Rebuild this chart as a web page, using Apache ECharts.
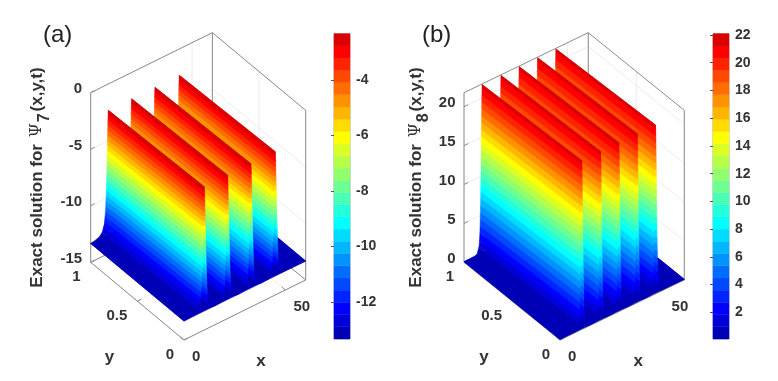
<!DOCTYPE html>
<html>
<head>
<meta charset="utf-8">
<style>html,body{margin:0;padding:0;background:#fff}#c{width:778px;height:381px}</style>
<script src="https://cdn.jsdelivr.net/npm/echarts@6/dist/echarts.min.js"></script>
</head>
<body>
<div id="c"></div>
<script>
// ---- values ----
const xMax = 60;
const xTicks = [0, 50];
const yTicks = [0, 0.5, 1];
const zTicksA = [0, -5, -10, -15];
const zTicksB = [0, 5, 10, 15, 20];
const barTicksA = [-12, -10, -8, -6, -4];
const barTicksB = [2, 4, 6, 8, 10, 12, 14, 16, 18, 20, 22];
const zRangeA = [-15, 0];
const zRangeB = [0, 21.8];
const levelRangeA = [-13.33, -2.33];
const levelRangeB = [0.08, 22.09];
const ridgeDriftA = 1.3;
const ridgeDriftB = 1.7;

// surface profile along x at y = 1 (it runs almost unchanged along y)
const xsA = [0, 1.7, 4.2, 5.7, 6.7, 7.3, 7.7, 8.0, 8.3, 8.5, 8.7, 8.9, 9.1, 9.4, 9.7, 10.0, 10.3, 10.7, 11.3, 12.1, 14,
  16.8, 17.6, 18.2, 18.6, 18.9, 19.2, 19.5, 19.8, 20.0, 20.2, 20.4, 20.6, 20.9, 21.2, 21.5, 21.8, 22.2, 22.8, 23.6, 25.5,
  28.3, 29.1, 29.7, 30.1, 30.4, 30.7, 31.0, 31.3, 31.5, 31.7, 31.9, 32.1, 32.4, 32.7, 33.0, 33.3, 33.7, 34.3, 35.1, 37,
  40.3, 41.1, 41.7, 42.1, 42.4, 42.7, 43.0, 43.3, 43.5, 43.7, 43.9, 44.1, 44.4, 44.7, 45.0, 45.3, 45.7, 46.3, 47.1, 60];
const zsA = [-13.33, -13.28, -13.13, -12.84, -12.23, -11.13, -9.37, -7.28, -4.75, -3.1, -2.33, -3.1, -4.75, -7.28, -9.37, -11.13, -12.23, -12.84, -13.13, -13.28, -13.33,
  -13.28, -13.13, -12.84, -12.23, -11.13, -9.37, -7.28, -4.75, -3.1, -2.33, -3.1, -4.75, -7.28, -9.37, -11.13, -12.23, -12.84, -13.13, -13.28, -13.33,
  -13.28, -13.13, -12.84, -12.23, -11.13, -9.37, -7.28, -4.75, -3.1, -2.33, -3.1, -4.75, -7.28, -9.37, -11.13, -12.23, -12.84, -13.13, -13.28, -13.33,
  -13.28, -13.13, -12.84, -12.23, -11.13, -9.37, -7.28, -4.75, -3.1, -2.33, -3.1, -4.75, -7.28, -9.37, -11.13, -12.23, -12.84, -13.13, -13.28, -13.33];

const xsB = [0, 5.3, 6.4, 7.3, 7.7, 8.0, 8.2, 8.4, 8.6, 8.8, 9.0, 9.2, 9.4, 9.6, 9.9, 10.2, 10.6, 11.2, 13,
  15.5, 16.1, 16.5, 16.8, 17.1, 17.3, 17.5, 17.7, 17.9, 18.1, 18.3, 18.5, 18.7, 19.0, 19.3, 19.7, 20.3, 22,
  24.3, 24.9, 25.3, 25.6, 25.9, 26.1, 26.3, 26.5, 26.7, 26.9, 27.1, 27.3, 27.5, 27.8, 28.1, 28.5, 29.1, 31,
  33.2, 33.8, 34.2, 34.5, 34.8, 35.0, 35.2, 35.4, 35.6, 35.8, 36.0, 36.2, 36.4, 36.7, 37.0, 37.4, 38.0, 40,
  42.0, 42.6, 43.0, 43.3, 43.6, 43.8, 44.0, 44.2, 44.4, 44.6, 44.8, 45.0, 45.2, 45.5, 45.8, 46.2, 46.8, 60];
const zsB = [0.08, 0.12, 0.3, 1.16, 2.89, 6.57, 10.9, 15.65, 19.98, 21.7, 19.98, 15.65, 10.9, 6.57, 2.89, 1.16, 0.3, 0.12, 0.08,
  0.12, 0.3, 1.16, 2.89, 6.57, 10.9, 15.65, 19.98, 21.7, 19.98, 15.65, 10.9, 6.57, 2.89, 1.16, 0.3, 0.12, 0.08,
  0.12, 0.3, 1.16, 2.89, 6.57, 10.9, 15.65, 19.98, 21.7, 19.98, 15.65, 10.9, 6.57, 2.89, 1.16, 0.3, 0.12, 0.08,
  0.12, 0.3, 1.16, 2.89, 6.57, 10.9, 15.65, 19.98, 21.7, 19.98, 15.65, 10.9, 6.57, 2.89, 1.16, 0.3, 0.12, 0.08,
  0.12, 0.3, 1.16, 2.89, 6.57, 10.9, 15.65, 19.98, 21.7, 19.98, 15.65, 10.9, 6.57, 2.89, 1.16, 0.3, 0.12, 0.08];

const levelColors = ['#0000b6','#0000db','#0000ff','#0024ff','#0049ff','#006dff','#0092ff','#00b6ff','#00dbff','#00ffff',
  '#24ffdb','#49ffb6','#6dff92','#92ff6d','#b6ff49','#dbff24','#ffff00','#ffdb00','#ffb600','#ff9200',
  '#ff6d00','#ff4900','#ff2400','#ff0000','#db0000'];

// ---- oblique view of each box, as fractions of its hidden grid ----
const viewA = { ux: 0.566, uy: 0.434, vx: 0.196, vy: 0.2537, vz: 0.5537 };
const viewB = { ux: 0.5642, uy: 0.4358, vx: 0.196, vy: 0.2537, vz: 0.5537 };
const tickFont = 'bold 15px "Liberation Sans", Arial, sans-serif';
const nameFont = 'bold 17px "Liberation Sans", Arial, sans-serif';
const boxColor = '#8c8c8c', gridColor = '#ececec', textColor = '#333';

function projector(view, zRange) {
  return (api, x, y, z) => api.coord([
    x / xMax * view.ux + (1 - y) * view.uy,
    x / xMax * view.vx + y * view.vy + (z - zRange[0]) / (zRange[1] - zRange[0]) * view.vz
  ]);
}

function surfaceSeries(gridIndex, xs, zs, drift, view, zRange, levels) {
  const P = projector(view, zRange), n = levelColors.length;
  const span = levels[1] - levels[0];
  const lvl = z => Math.max(0, Math.min(n - 1, Math.floor((z - levels[0]) / span * n)));
  const shift = i => (i === 0 || i === xs.length - 1) ? 0 : drift;
  const data = [[-1]];
  for (let i = xs.length - 2; i >= 0; i--) data.push([i]);
  return {
    type: 'custom', coordinateSystem: 'cartesian2d', xAxisIndex: gridIndex, yAxisIndex: gridIndex,
    silent: true, animation: false, z: 5, clip: false, data,
    renderItem(params, api) {
      const i = api.value(0);
      if (i < 0) {
        const f = levels[0], col = levelColors[0];
        return { type: 'polygon',
          shape: { points: [P(api, 0, 1, f), P(api, xMax, 1, f), P(api, xMax, 0, f), P(api, 0, 0, f)] },
          style: { fill: col, stroke: col, lineWidth: 0.5 } };
      }
      const x0 = xs[i], x1 = xs[i + 1], z0 = zs[i], z1 = zs[i + 1];
      const cuts = [0, 1];
      const la = Math.min(lvl(z0), lvl(z1)), lb = Math.max(lvl(z0), lvl(z1));
      for (let k = la + 1; k <= lb; k++) {
        const t = (levels[0] + k / n * span - z0) / (z1 - z0);
        if (t > 0 && t < 1) cuts.push(t);
      }
      cuts.sort((a, b) => b - a);
      const children = [];
      for (let c = 0; c < cuts.length - 1; c++) {
        const tb = cuts[c], ta = cuts[c + 1];
        const za = z0 + (z1 - z0) * ta, zb = z0 + (z1 - z0) * tb;
        const xa = x0 + (x1 - x0) * ta, xb = x0 + (x1 - x0) * tb;
        const da = shift(i) + (shift(i + 1) - shift(i)) * ta, db = shift(i) + (shift(i + 1) - shift(i)) * tb;
        const col = levelColors[lvl((za + zb) / 2)];
        children.push({
          type: 'polygon',
          shape: { points: [P(api, xa, 1, za), P(api, xb, 1, zb), P(api, xb + db, 0, zb), P(api, xa + da, 0, za)] },
          style: { fill: col, stroke: col, lineWidth: 0.5 }
        });
      }
      return { type: 'group', children };
    }
  };
}

function lineSeries(gridIndex, segs, view, zRange, z, color) {
  const P = projector(view, zRange);
  return {
    type: 'custom', coordinateSystem: 'cartesian2d', xAxisIndex: gridIndex, yAxisIndex: gridIndex,
    silent: true, animation: false, z, clip: false, data: segs,
    renderItem(params, api) {
      const a = P(api, api.value(0), api.value(1), api.value(2));
      const b = P(api, api.value(3), api.value(4), api.value(5));
      return { type: 'line', shape: { x1: a[0], y1: a[1], x2: b[0], y2: b[1] }, style: { stroke: color, lineWidth: 1, fill: null } };
    }
  };
}

function boxParts(zTicks, zRange) {
  const [zl, zh] = zRange, grid = [], back = [], front = [], ticks = [];
  for (const z of zTicks) {
    grid.push([0, 1, z, xMax, 1, z], [xMax, 1, z, xMax, 0, z]);
    ticks.push([0, 1, z, 2, 1, z]);
  }
  for (const x of xTicks) {
    grid.push([x, 1, zl, x, 1, zh], [x, 0, zl, x, 1, zl]);
    ticks.push([x, 0, zl, x, 0.04, zl]);
  }
  for (const y of yTicks) {
    grid.push([xMax, y, zl, xMax, y, zh], [0, y, zl, xMax, y, zl]);
    ticks.push([0, y, zl, 2, y, zl]);
  }
  back.push([xMax, 1, zl, xMax, 1, zh], [0, 1, zl, xMax, 1, zl], [xMax, 0, zl, xMax, 1, zl]);
  front.push([0, 1, zl, 0, 1, zh], [0, 1, zh, xMax, 1, zh], [xMax, 1, zh, xMax, 0, zh], [xMax, 0, zl, xMax, 0, zh],
    [0, 0, zl, xMax, 0, zl], [0, 0, zl, 0, 1, zl]);
  return { grid, back, front, ticks };
}

function tickLabelSeries(gridIndex, zTicks, view, zRange) {
  const P = projector(view, zRange), zl = zRange[0];
  const items = [];
  zTicks.forEach(z => items.push([0, 1, z, String(z), -8.5, -3.5, 'right', tickFont]));
  yTicks.forEach(y => items.push([0, y, zl, String(y), -10, 15, 'right', tickFont]));
  xTicks.forEach(x => items.push([x, 0, zl, String(x), 8, 17, 'left', tickFont]));
  items.push([0, 0.5, zl, 'y', -28, 56, 'center', nameFont]);
  items.push([xMax / 2, 0, zl, 'x', 16, 51, 'center', nameFont]);
  return {
    type: 'custom', coordinateSystem: 'cartesian2d', xAxisIndex: gridIndex, yAxisIndex: gridIndex,
    silent: true, animation: false, z: 8, clip: false, data: items.map((d, i) => [i]),
    renderItem(params, api) {
      const d = items[api.value(0)];
      const p = P(api, d[0], d[1], d[2]);
      return { type: 'text', x: p[0] + d[4], y: p[1] + d[5],
        style: { text: d[3], font: d[7], fill: textColor, align: d[6], verticalAlign: 'middle' } };
    }
  };
}

function barSeries(gridIndex, levels) {
  const n = levelColors.length, span = levels[1] - levels[0];
  return {
    type: 'custom', coordinateSystem: 'cartesian2d', xAxisIndex: gridIndex, yAxisIndex: gridIndex,
    silent: true, animation: false, z: 2, clip: false,
    data: levelColors.map((c, i) => [i, levels[0] + i / n * span, levels[0] + (i + 1) / n * span]),
    renderItem(params, api) {
      const a = api.coord([0, api.value(1)]), b = api.coord([1, api.value(2)]);
      const col = levelColors[api.value(0)];
      return { type: 'rect', shape: { x: a[0], y: b[1], width: b[0] - a[0], height: a[1] - b[1] },
        style: { fill: col, stroke: col, lineWidth: 0.4 } };
    }
  };
}

function panelSeries(g, xs, zs, drift, view, zRange, levels, zTicks) {
  const b = boxParts(zTicks, zRange);
  return [
    lineSeries(g, b.grid, view, zRange, 1, gridColor),
    lineSeries(g, b.back, view, zRange, 2, boxColor),
    lineSeries(g, b.front, view, zRange, 3, boxColor),
    lineSeries(g, b.ticks, view, zRange, 3, boxColor),
    surfaceSeries(g, xs, zs, drift, view, zRange, levels),
    tickLabelSeries(g, zTicks, view, zRange)
  ];
}

const hiddenAxis = i => ({ type: 'value', gridIndex: i, min: 0, max: 1, show: false });
function barAxis(i, levels, ticks) {
  return {
    type: 'value', gridIndex: i, position: 'right', min: levels[0], max: levels[1],
    axisLine: { show: false }, splitLine: { show: false },
    axisTick: { show: true, inside: true, length: 3, customValues: ticks, lineStyle: { color: '#555', width: 1 } },
    axisLabel: { show: true, customValues: ticks, margin: 6, color: textColor, fontSize: 14, fontWeight: 'bold', fontFamily: '"Liberation Sans", Arial, sans-serif' },
    z: 6
  };
}

const axisTitle = (x, sub) => ({
  type: 'text', x, y: 177.5, rotation: Math.PI / 2, silent: true, z: 9,
  style: {
    text: '{m|Exact solution for }{p|\u03A8}{s|' + sub + '}{m|(x,y,t)}',
    align: 'center', verticalAlign: 'middle',
    rich: {
      m: { font: 'bold 17px "Liberation Sans", Arial, sans-serif', fill: textColor, lineHeight: 34, verticalAlign: 'middle' },
      p: { font: '16px "DejaVu Serif", serif', fill: textColor, lineHeight: 34, verticalAlign: 'middle', padding: [0, 1, 0, 2] },
      s: { font: 'bold 16px "Liberation Sans", Arial, sans-serif', fill: textColor, lineHeight: 18, height: 18, verticalAlign: 'bottom', padding: [0, 2, 0, 0] }
    }
  }
});

const chart = echarts.init(document.getElementById('c'), null, { renderer: 'canvas' });
chart.setOption({
  animation: false,
  backgroundColor: '#fff',
  title: [
    { text: '(a)', left: 38, top: 18, textStyle: { fontSize: 24, fontWeight: 'normal', color: '#222', fontFamily: '"Liberation Sans", Arial, sans-serif' } },
    { text: '(b)', left: 417, top: 18, textStyle: { fontSize: 24, fontWeight: 'normal', color: '#222', fontFamily: '"Liberation Sans", Arial, sans-serif' } }
  ],
  grid: [
    { left: 90.7, top: 33.7, width: 215, height: 306.3 },
    { left: 334, top: 33.7, width: 16, height: 305.3, show: true, borderColor: '#aaa', borderWidth: 1 },
    { left: 464, top: 33.7, width: 220.3, height: 306.3 },
    { left: 713, top: 33.7, width: 16, height: 305.3, show: true, borderColor: '#aaa', borderWidth: 1 }
  ],
  xAxis: [hiddenAxis(0), hiddenAxis(1), hiddenAxis(2), hiddenAxis(3)],
  yAxis: [hiddenAxis(0), barAxis(1, levelRangeA, barTicksA), hiddenAxis(2), barAxis(3, levelRangeB, barTicksB)],
  graphic: [axisTitle(37, '7'), axisTitle(416, '8')],
  series: [
    ...panelSeries(0, xsA, zsA, ridgeDriftA, viewA, zRangeA, levelRangeA, zTicksA),
    barSeries(1, levelRangeA),
    ...panelSeries(2, xsB, zsB, ridgeDriftB, viewB, zRangeB, levelRangeB, zTicksB),
    barSeries(3, levelRangeB)
  ]
});
</script>
</body>
</html>
